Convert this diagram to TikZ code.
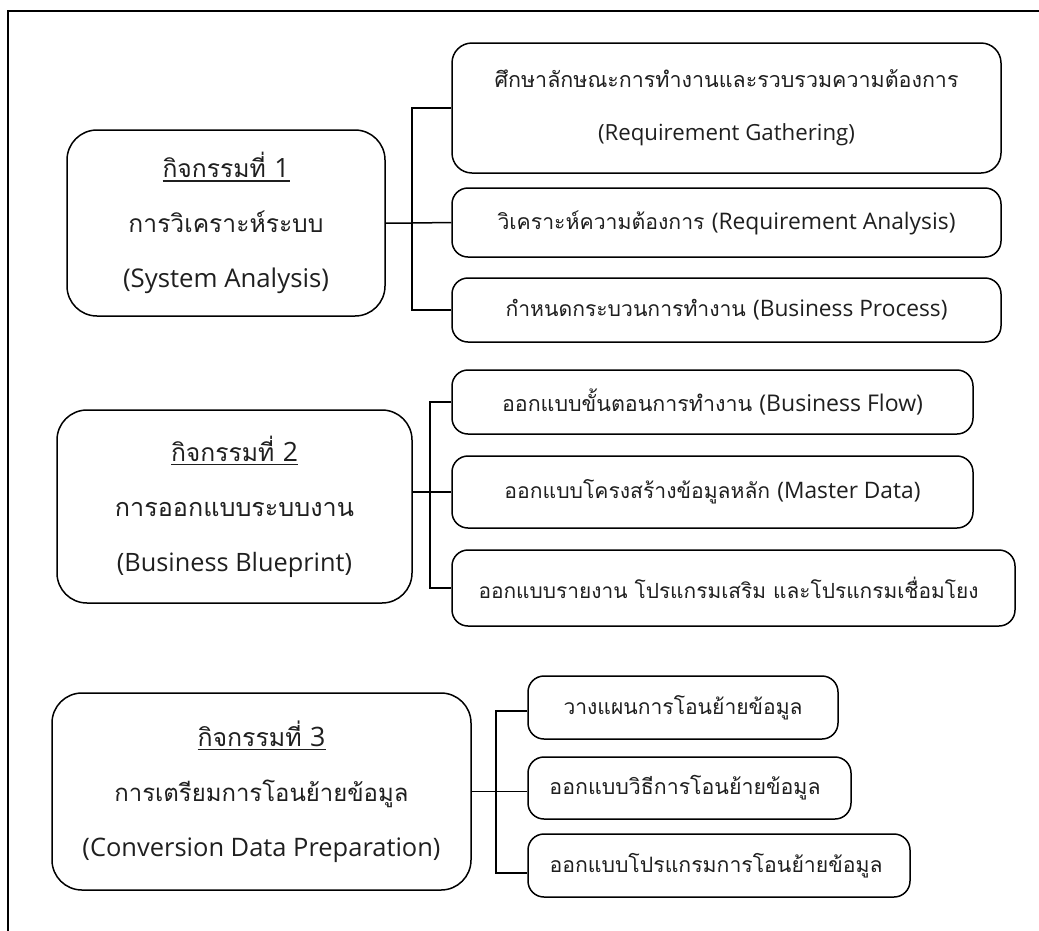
\documentclass[tikz,border=0pt]{standalone}
\usepackage{fontspec}
\setmainfont[Script=Thai,Scale=0.93]{Loma}
\newfontfamily\lat{Open Sans}
\newcommand\fw[2]{\resizebox{#1pt}{!}{#2}}
\newcommand\ulfw[2]{\vtop{\hbox{\fw{#1}{#2}}\kern2.5pt\hrule height 1.4pt}}
\begin{document}
\begin{tikzpicture}[x=1pt,y=-1pt,
  bx/.style={draw, line width=1.5pt, inner sep=0pt, align=center, text=black!88},
  mainbox/.style={bx, rounded corners=30pt, font=\fontsize{24}{55}\selectfont},
  subbox/.style={bx, rounded corners=16pt, font=\fontsize{21}{53}\selectfont},
  conn/.style={line width=1.5pt},
  frame/.style={line width=1.5pt}]
\useasboundingbox (0,0) rectangle (1039,930);
\draw[frame] (1045,11) -- (8,11) -- (8,940);

% activity 1
\node[mainbox, minimum width=318pt, minimum height=186pt] (p1) at (226,223)
  {\ulfw{127}{กิจกรรมที่ {\lat 1}}\\\fw{195}{การวิเคราะห์ระบบ}\\\fw{206}{\lat (System Analysis)}};
\node[subbox, rounded corners=20pt, minimum width=549pt, minimum height=130pt] (c1a) at (726.5,108)
  {\fw{464}{ศึกษาลักษณะการทำงานและรวบรวมความต้องการ}\\\fw{257}{\lat (Requirement Gathering)}};
\node[subbox, minimum width=549pt, minimum height=69pt] (c1b) at (726.5,222.5)
  {\fw{458}{วิเคราะห์ความต้องการ {\lat (Requirement Analysis)}}};
\node[subbox, minimum width=549pt, minimum height=64pt] (c1c) at (726.5,310)
  {\fw{442}{กำหนดกระบวนการทำงาน {\lat (Business Process)}}};
\coordinate (v1) at (412,223);
\draw[conn] (p1.east) -- (v1) -- (c1b.west);
\draw[conn] (c1a.west) -| (v1) |- (c1c.west);

% activity 2
\node[mainbox, minimum width=355pt, minimum height=193pt] (p2) at (234.5,506.5)
  {\ulfw{127}{กิจกรรมที่ {\lat 2}}\\\fw{239}{การออกแบบระบบงาน}\\\fw{235}{\lat (Business Blueprint)}};
\node[subbox, minimum width=521pt, minimum height=64pt] (c2a) at (712.5,402)
  {\fw{421}{ออกแบบขั้นตอนการทำงาน {\lat (Business Flow)}}};
\node[subbox, minimum width=521pt, minimum height=72pt] (c2b) at (712.5,492)
  {\fw{416}{ออกแบบโครงสร้างข้อมูลหลัก {\lat (Master Data)}}};
\node[subbox, minimum width=563pt, minimum height=76pt] (c2c) at (733.5,588)
  {\fw{500}{ออกแบบรายงาน โปรแกรมเสริม และโปรแกรมเชื่อมโยง}\hspace*{10pt}};
\coordinate (v2) at (430,492);
\draw[conn] (p2.east |- c2b.west) -- (c2b.west);
\draw[conn] (c2a.west) -| (v2) |- (c2c.west);

% activity 3
\node[mainbox, minimum width=419pt, minimum height=197pt] (p3) at (261.5,791.5)
  {\ulfw{128}{กิจกรรมที่ {\lat 3}}\\\fw{294}{การเตรียมการโอนย้ายข้อมูล}\\\fw{358}{\lat (Conversion Data Preparation)}};
\node[subbox, minimum width=310pt, minimum height=63pt] (c3a) at (683,707.5)
  {\fw{239}{วางแผนการโอนย้ายข้อมูล}};
\node[subbox, minimum width=323pt, minimum height=62pt] (c3b) at (689.5,788)
  {\fw{271}{ออกแบบวิธีการโอนย้ายข้อมูล}\hspace*{9pt}};
\node[subbox, minimum width=382pt, minimum height=63pt] (c3c) at (719,865.5)
  {\fw{333}{ออกแบบโปรแกรมการโอนย้ายข้อมูล}\hspace*{6pt}};
\coordinate (v3) at (496,791.5);
\draw[conn] (p3.east) -- (p3.east -| c3b.west);
\draw[conn] ([yshift=-3.5pt]c3a.west) -| (v3) |- ([yshift=-7.5pt]c3c.west);
\end{tikzpicture}
\end{document}
